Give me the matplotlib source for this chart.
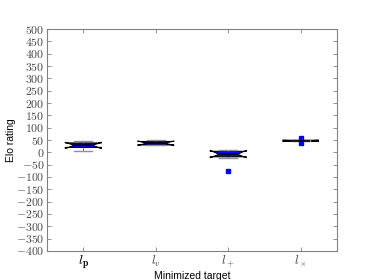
import matplotlib
matplotlib.use("Agg")
import matplotlib.pyplot as plt

plt.rcParams['mathtext.fontset'] = 'cm'
plt.rcParams['font.family'] = ['Liberation Sans', 'DejaVu Sans']

# box statistics
labels = [r'$l_{\mathbf{p}}$', r'$l_v$', r'$l_+$', r'$l_\times$']
medians = [28, 37, -8, 47]
q1s = [20, 30, -18, 45]
q3s = [38, 44, 4, 49]
cilos = [15, 28, -22, 45]
cihis = [41, 46, 8, 49]
whislos = [7, 28, -25, 45]
whishis = [46, 48, 10, 49]
fliers = [[], [], [-77], [59, 38]]

yticks = list(range(-400, 501, 50))

stats = []
for i in range(4):
    stats.append(dict(med=medians[i], q1=q1s[i], q3=q3s[i], cilo=cilos[i], cihi=cihis[i],
                      whislo=whislos[i], whishi=whishis[i], fliers=fliers[i]))

fig = plt.figure(figsize=(3.74, 2.8), dpi=100)
ax = fig.add_axes([0.126, 0.104, 0.775, 0.792])

ax.bxp(stats, positions=[1, 2, 3, 4], widths=0.5, shownotches=True, patch_artist=True,
       boxprops=dict(facecolor='#0000ff', edgecolor='black', linewidth=0.8),
       medianprops=dict(color='black', linewidth=1.2),
       whiskerprops=dict(color='#4040ff', linewidth=0.6),
       capprops=dict(color='#909090', linewidth=1.0),
       flierprops=dict(marker='s', markerfacecolor='#0000ff', markeredgecolor='#0000ff',
                       markersize=3.5, linestyle='none'))

ax.set_xlim(0.5, 4.5)
ax.set_ylim(-400, 500)
ax.set_yticks(yticks)
ax.set_yticklabels([r'$%d$' % v for v in yticks], fontsize=8.5, color='#444444')
ax.set_xticks([1, 2, 3, 4])
ax.set_xticklabels(labels, fontsize=9, color='#444444')
ax.get_xticklabels()[0].set_color('black')
ax.get_xticklabels()[0].set_fontsize(10)

for s in ax.spines.values():
    s.set_color('#808080')
ax.tick_params(direction='in', top=True, right=True, length=3, color='#808080', width=0.6, pad=2)

ax.set_ylabel('Elo rating', fontsize=7.5, labelpad=0)
ax.set_xlabel('Minimized target', fontsize=7.5, labelpad=0)

fig.savefig('out.png', dpi=100)
